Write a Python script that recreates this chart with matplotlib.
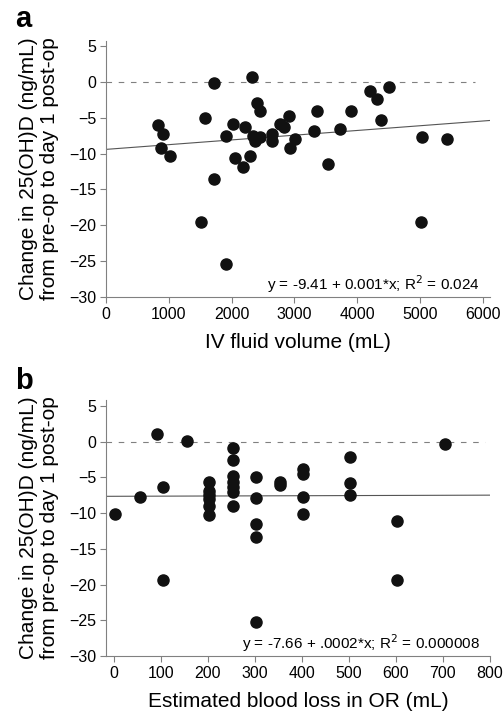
import matplotlib
matplotlib.use('Agg')
import matplotlib.pyplot as plt
import numpy as np

plt.rcParams['font.family'] = ['Liberation Sans', 'DejaVu Sans']

# panel a: IV fluid volume vs change in 25(OH)D
fluid_ml = [828, 910, 875, 1020, 1575, 1720, 1720, 1910, 2020, 2050,
            2180, 2210, 2290, 2320, 2345, 2400, 2450, 2380, 2450, 2640,
            2650, 2770, 2830, 2910, 2930, 3010, 3310, 3360, 3540, 3720,
            3900, 4210, 4320, 4380, 4510, 5030, 5430, 1510, 1910, 5010]
fluid_change = [-6.0, -7.3, -9.2, -10.4, -5.0, -0.2, -13.6, -7.5, -5.8, -10.6,
                -11.8, -6.3, -10.4, 0.7, -7.5, -2.9, -4.1, -8.3, -7.7, -7.2,
                -8.3, -5.9, -6.3, -4.8, -9.2, -8.0, -6.8, -4.1, -11.4, -6.5,
                -4.1, -1.2, -2.4, -5.3, -0.7, -7.7, -8.0, -19.6, -25.4, -19.6]
fit_a = (-9.41, 0.00066)
eq_a = 'y = -9.41 + 0.001*x; R$^2$ = 0.024'

# panel b: estimated blood loss vs change in 25(OH)D
blood_ml = [2, 55, 92, 104, 104, 156,
            203, 203, 203, 203, 203, 203,
            254, 254, 254, 254, 254, 254, 254,
            303, 303, 303, 303, 303,
            353, 353,
            403, 403, 403, 403,
            503, 503, 503,
            603, 603, 704]
blood_change = [-10.1, -7.7, 1.1, -6.3, -19.3, 0.05,
                -5.6, -6.9, -7.5, -8.1, -9.0, -10.3,
                -0.9, -2.6, -4.8, -5.6, -6.3, -7.0, -9.0,
                -5.0, -7.9, -11.6, -13.3, -25.3,
                -5.7, -6.1,
                -3.8, -4.5, -7.7, -10.1,
                -2.1, -5.8, -7.5,
                -11.1, -19.3, -0.4]
fit_b = (-7.66, 0.0002)
eq_b = 'y = -7.66 + .0002*x; R$^2$ = 0.000008'

ylabel = 'Change in 25(OH)D (ng/mL)\nfrom pre-op to day 1 post-op'

fig = plt.figure(figsize=(5.04, 7.14), dpi=100)
ax_a = fig.add_axes([0.210, 0.584, 0.762, 0.3585])
ax_b = fig.add_axes([0.210, 0.0812, 0.762, 0.3585])


def style_axes(ax, xlim, ylim, xticks):
    ax.set_xlim(*xlim)
    ax.set_ylim(*ylim)
    ax.set_xticks(xticks)
    ax.set_yticks(np.arange(-30, 6, 5))
    for side in ['top', 'right']:
        ax.spines[side].set_visible(False)
    for side in ['left', 'bottom']:
        ax.spines[side].set_color('#808080')
        ax.spines[side].set_linewidth(0.8)
    ax.tick_params(direction='out', length=4, width=0.8, color='#808080',
                   labelsize=11.5, pad=3)
    ax.set_ylabel(ylabel, fontsize=15, linespacing=1.15, labelpad=7)


def draw_panel(ax, xs, ys, fit, eq, xmax_dash):
    x0, x1 = ax.get_xlim()
    ax.plot([x0, xmax_dash], [0, 0], color='#808080', lw=0.8,
            dashes=(5, 6), zorder=1)
    fx = np.array([x0, x1])
    ax.plot(fx, fit[0] + fit[1] * fx, color='#555555', lw=0.8, zorder=1)
    ax.plot(xs, ys, 'o', color='#111111', markersize=8, zorder=3)
    ax.text(0.975, 0.008, eq, transform=ax.transAxes, ha='right', va='bottom',
            fontsize=11)


style_axes(ax_a, (0, 6110), (-30, 5.7), np.arange(0, 6001, 1000))
draw_panel(ax_a, fluid_ml, fluid_change, fit_a, eq_a, 5870)
ax_a.set_xlabel('IV fluid volume (mL)', fontsize=15, labelpad=8)

style_axes(ax_b, (-17, 800), (-30, 5.8), np.arange(0, 801, 100))
draw_panel(ax_b, blood_ml, blood_change, fit_b, eq_b, 790)
ax_b.set_xlabel('Estimated blood loss in OR (mL)', fontsize=15, labelpad=8)

fig.text(0.03, 0.962, 'a', fontsize=21, fontweight='bold')
fig.text(0.03, 0.455, 'b', fontsize=21, fontweight='bold')

fig.savefig('out.png', dpi=100)
